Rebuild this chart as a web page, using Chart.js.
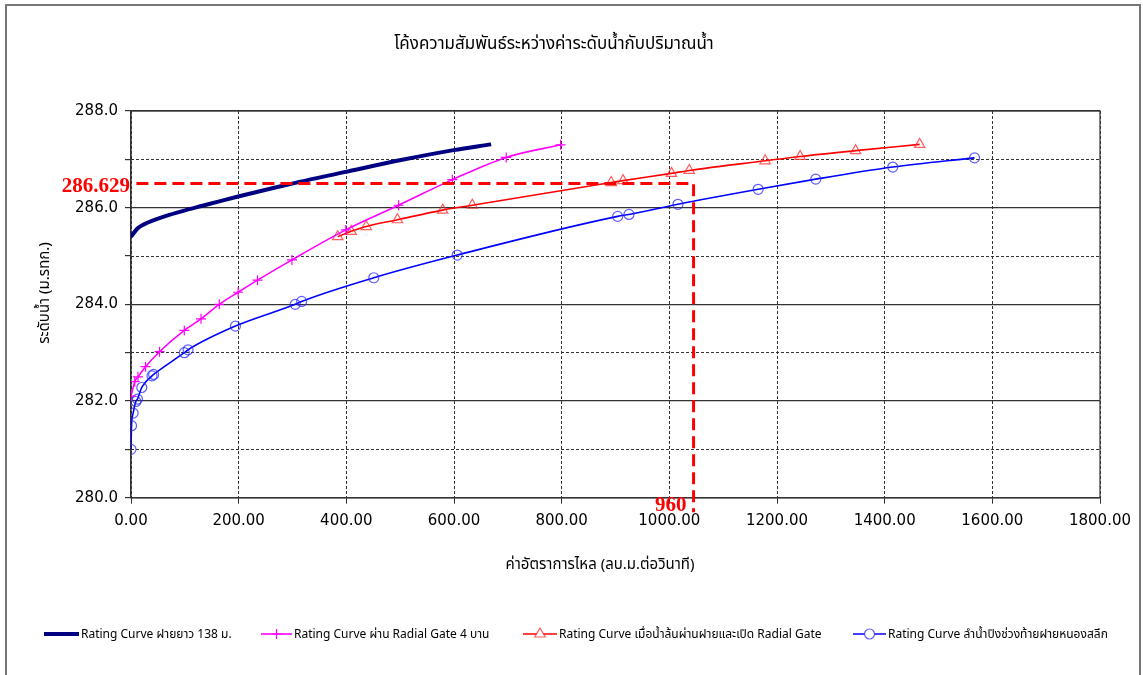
<!DOCTYPE html>
<html>
<head>
<meta charset="utf-8">
<script src="https://cdn.jsdelivr.net/npm/chart.js@4/dist/chart.umd.min.js"></script>
<style>
  html, body { margin: 0; padding: 0; background: #fff; }
  #wrap { width: 1143px; height: 675px; position: relative; }
</style>
</head>
<body>
<div id="wrap"><canvas id="ratingChart" width="1143" height="675"></canvas></div>
<script>
// axis ticks
const flowTicks = [0, 200, 400, 600, 800, 1000, 1200, 1400, 1600, 1800];
const levelTicks = [280, 282, 284, 286, 288];

// Rating Curve ฝายยาว 138 ม.
const weirFlow = [0, 12, 25, 40, 71, 102, 133, 164, 199, 288, 399, 504, 599, 669];
const weirLevel = [285.40, 285.57, 285.66, 285.73, 285.85, 285.95, 286.04, 286.13, 286.23, 286.47, 286.74, 286.99, 287.19, 287.31];

// Rating Curve ผ่าน Radial Gate 4 บาน
const gateFlow = [0, 7, 13, 27, 53, 99, 130, 164, 199, 235, 299, 399, 497, 597, 697, 798];
const gateLevel = [282.10, 282.40, 282.50, 282.71, 283.02, 283.46, 283.70, 284.00, 284.25, 284.50, 284.92, 285.54, 286.05, 286.58, 287.04, 287.30];

// Rating Curve เมื่อน้ำล้นผ่านฝายและเปิด Radial Gate
const overFlow = [384, 409, 437, 495, 579, 634, 892, 914, 1004, 1037, 1178, 1243, 1346, 1465];
const overLevel = [285.40, 285.51, 285.61, 285.75, 285.95, 286.05, 286.52, 286.56, 286.71, 286.77, 286.97, 287.06, 287.18, 287.31];

// Rating Curve ลำน้ำปิงช่วงท้ายฝายหนองสลีก
const riverFlow = [0, 1, 4, 9, 12, 20, 39, 42, 99, 106, 194, 305, 317, 451, 606, 904, 925, 1016, 1165, 1272, 1415, 1567];
const riverLevel = [281.00, 281.49, 281.75, 281.99, 282.04, 282.28, 282.52, 282.55, 283.00, 283.06, 283.55, 284.00, 284.06, 284.55, 285.02, 285.82, 285.86, 286.07, 286.38, 286.59, 286.84, 287.03];

// read-off guide (drawn position and its printed labels)
const markFlow = 1045;
const markLevel = 286.5;
const markLevelText = '286.629';
const markFlowText = '960';

const seriesNames = [
  'Rating Curve ฝายยาว 138 ม.',
  'Rating Curve ผ่าน Radial Gate 4 บาน',
  'Rating Curve เมื่อน้ำล้นผ่านฝายและเปิด Radial Gate',
  'Rating Curve ลำน้ำปิงช่วงท้ายฝายหนองสลีก'
];

const toPoints = (xs, ys) => xs.map((x, i) => ({ x: x, y: ys[i] }));

const thaiFont = "Tahoma, 'Noto Sans Thai', 'Loma', 'DejaVu Sans', sans-serif";
const tickFont = { family: "'DejaVu Sans', Tahoma, sans-serif", size: 15 };
const gridColor = '#333';

const ctx = document.getElementById('ratingChart').getContext('2d');

const decor = {
  id: 'decor',
  beforeDraw(chart) {
    const c = chart.ctx;
    c.save();
    c.fillStyle = '#fff';
    c.fillRect(0, 0, chart.width, chart.height);
    c.strokeStyle = '#777';
    c.lineWidth = 2;
    c.strokeRect(6, 5, 1134, 680);
    c.restore();
  },
  beforeDatasetsDraw(chart) {
    const a = chart.chartArea;
    const c = chart.ctx;
    c.save();
    c.strokeStyle = gridColor;
    c.lineWidth = 1.2;
    c.strokeRect(a.left, a.top, a.right - a.left, a.bottom - a.top);
    c.restore();
  },
  afterDatasetsDraw(chart) {
    const c = chart.ctx;
    const xs = chart.scales.x, ys = chart.scales.y;
    const px = xs.getPixelForValue(markFlow);
    const py = ys.getPixelForValue(markLevel);
    const x0 = xs.getPixelForValue(10);
    const yEnd = ys.getPixelForValue(279.7);
    c.save();
    c.strokeStyle = '#ff0000';
    c.lineWidth = 3;
    c.setLineDash([12, 6]);
    c.beginPath();
    c.moveTo(x0, py);
    c.lineTo(px, py);
    c.lineTo(px, yEnd);
    c.stroke();
    c.setLineDash([]);
    c.fillStyle = '#ff0000';
    c.font = "bold 21px 'Liberation Serif', 'Times New Roman', serif";
    c.textAlign = 'right';
    c.textBaseline = 'middle';
    c.fillText(markLevelText, xs.left - 1, py + 3);
    c.fillText(markFlowText, px - 7, ys.getPixelForValue(280) + 8);
    c.restore();
  },
  afterDraw(chart) {
    const c = chart.ctx;
    c.save();
    c.fillStyle = '#000';
    c.textAlign = 'center';
    c.textBaseline = 'middle';
    c.font = '17px ' + thaiFont;
    c.fillText('โค้งความสัมพันธ์ระหว่างค่าระดับน้ำกับปริมาณน้ำ', 554, 46);

    c.font = '15px ' + thaiFont;
    c.fillText('ค่าอัตราการไหล (ลบ.ม.ต่อวินาที)', 600, 566);

    c.save();
    c.translate(46, 293);
    c.rotate(-Math.PI / 2);
    c.fillText('ระดับน้ำ (ม.รทก.)', 0, 0);
    c.restore();

    // legend
    const spots = [[44, 79], [261, 292], [523, 557], [853, 886]];
    const ly = 634;
    c.font = '12px ' + thaiFont;
    c.textAlign = 'left';
    chart.data.datasets.forEach((ds, i) => {
      const [l, r] = spots[i];
      c.strokeStyle = ds.borderColor;
      c.lineWidth = ds.borderWidth;
      c.beginPath();
      c.moveTo(l, ly);
      c.lineTo(r, ly);
      c.stroke();
      if (ds.pointRadius > 0) {
        c.strokeStyle = ds.pointBorderColor;
        c.fillStyle = '#fff';
        c.lineWidth = ds.pointBorderWidth;
        Chart.helpers.drawPoint(c, {
          pointStyle: ds.pointStyle,
          radius: ds.pointRadius,
          rotation: 0,
          borderWidth: ds.pointBorderWidth
        }, (l + r) / 2, ly);
      }
      c.fillStyle = '#000';
      c.fillText(ds.label, r + 2, ly + 2);
    });
    c.restore();
  }
};

new Chart(ctx, {
  type: 'scatter',
  data: {
    datasets: [
      {
        label: seriesNames[0],
        data: toPoints(weirFlow, weirLevel),
        showLine: true,
        borderColor: '#000080',
        borderWidth: 4,
        pointRadius: 0,
        tension: 0.4,
        cubicInterpolationMode: 'monotone'
      },
      {
        label: seriesNames[1],
        data: toPoints(gateFlow, gateLevel),
        showLine: true,
        borderColor: '#ff00ff',
        borderWidth: 1.6,
        pointStyle: 'cross',
        pointRadius: 5,
        pointBorderWidth: 1.2,
        pointBorderColor: '#ff00ff',
        pointBackgroundColor: 'transparent',
        tension: 0.4,
        cubicInterpolationMode: 'monotone'
      },
      {
        label: seriesNames[2],
        data: toPoints(overFlow, overLevel),
        showLine: true,
        borderColor: '#ff0000',
        borderWidth: 1.6,
        pointStyle: 'triangle',
        pointRadius: 6,
        pointBorderWidth: 1.2,
        pointBorderColor: 'rgba(255,40,40,0.75)',
        pointBackgroundColor: 'transparent',
        tension: 0.4,
        cubicInterpolationMode: 'monotone'
      },
      {
        label: seriesNames[3],
        data: toPoints(riverFlow, riverLevel),
        showLine: true,
        borderColor: '#0000ff',
        borderWidth: 1.6,
        pointStyle: 'circle',
        pointRadius: 5,
        pointBorderWidth: 1.2,
        pointBorderColor: 'rgba(40,40,255,0.75)',
        pointBackgroundColor: 'transparent',
        tension: 0.4,
        cubicInterpolationMode: 'monotone'
      }
    ]
  },
  options: {
    responsive: false,
    animation: false,
    layout: { padding: { left: 0, top: 111, right: 43, bottom: 117.3 } },
    plugins: {
      legend: { display: false },
      tooltip: { enabled: false },
      title: { display: false }
    },
    scales: {
      x: {
        type: 'linear',
        min: flowTicks[0],
        max: flowTicks[flowTicks.length - 1],
        afterBuildTicks: s => { s.ticks = flowTicks.map(v => ({ value: v })); },
        afterFit: s => { s.height = 60; },
        ticks: {
          font: tickFont,
          color: '#000',
          padding: 8,
          maxRotation: 0,
          callback: v => Number(v).toFixed(2)
        },
        grid: { color: gridColor, lineWidth: 1, tickLength: 6, tickColor: gridColor },
        border: { color: gridColor, width: 1.2, dash: [3, 2] }
      },
      y: {
        type: 'linear',
        position: 'left',
        min: 280,
        max: 288,
        afterBuildTicks: s => {
          const t = [];
          for (let v = 280; v <= 288; v++) t.push({ value: v });
          s.ticks = t;
        },
        afterFit: s => { s.width = 131; },
        ticks: {
          font: tickFont,
          color: '#000',
          padding: 7,
          callback: v => (levelTicks.includes(v) ? Number(v).toFixed(1) : '')
        },
        grid: {
          color: c => (c.tick && levelTicks.includes(c.tick.value) ? gridColor : 'rgba(0,0,0,0)'),
          tickColor: gridColor,
          lineWidth: 1.2,
          tickLength: 6
        },
        border: { color: gridColor, width: 1.2 }
      },
      y2: {
        type: 'linear',
        position: 'left',
        min: 280,
        max: 288,
        afterBuildTicks: s => {
          const t = [];
          for (let v = 280; v <= 288; v++) t.push({ value: v });
          s.ticks = t;
        },
        afterFit: s => { s.width = 0; },
        ticks: { display: false },
        grid: {
          drawTicks: false,
          color: c => (c.tick && !levelTicks.includes(c.tick.value) ? gridColor : 'rgba(0,0,0,0)'),
          lineWidth: 1
        },
        border: { display: false, dash: [3, 2] }
      }
    }
  },
  plugins: [decor]
});
</script>
</body>
</html>
